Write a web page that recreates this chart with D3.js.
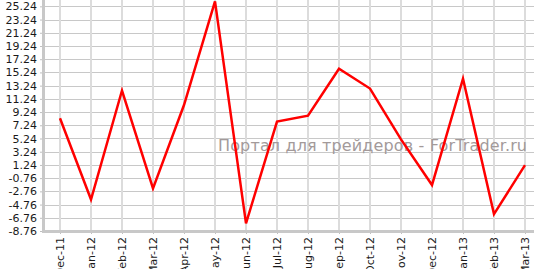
<!DOCTYPE html>
<html>
<head>
<meta charset="utf-8">
<script src="https://cdn.jsdelivr.net/npm/d3@7"></script>
<style>
html,body{margin:0;padding:0;background:#fff;}
svg{display:block;}
</style>
</head>
<body>
<svg id="chart" width="534" height="269"></svg>
<script>
const categories = ["Dec-11","Jan-12","Feb-12","Mar-12","Apr-12","May-12","Jun-12","Jul-12","Aug-12","Sep-12","Oct-12","Nov-12","Dec-12","Jan-13","Feb-13","Mar-13"];
const values = [8.3, -4.0, 12.5, -2.3, 10.3, 26.0, -7.6, 7.8, 8.7, 15.8, 12.8, 5.1, -1.8, 14.3, -6.2, 1.2];
const yTicks = [-8.76,-6.76,-4.76,-2.76,-0.76,1.24,3.24,5.24,7.24,9.24,11.24,13.24,15.24,17.24,19.24,21.24,23.24,25.24];
const watermark = "Портал для трейдеров - ForTrader.ru";

(function(){
const svg = d3.select("#chart");
const pl = 44, pt = 0, pb = 231;
const font = "'DejaVu Sans', Verdana, sans-serif";

const x = d3.scalePoint().domain(categories).range([60, 525]);
const y = d3.scaleLinear().domain([-8.76, 26.2]).range([pb, pt]);

// horizontal grid
svg.append("g").selectAll("line").data(yTicks).join("line")
  .attr("x1", pl).attr("x2", 534)
  .attr("y1", d => Math.round(y(d)) + 0.5).attr("y2", d => Math.round(y(d)) + 0.5)
  .attr("stroke", "#c8c8c8").attr("stroke-width", 1);

// vertical grid
svg.append("g").selectAll("line").data(categories).join("line")
  .attr("x1", d => x(d)).attr("x2", d => x(d))
  .attr("y1", pt).attr("y2", pb)
  .attr("stroke", "#dcdcdc").attr("stroke-width", 2);

// watermark
svg.append("text")
  .attr("x", 218).attr("y", 151)
  .attr("font-family", font).attr("font-size", 16)
  .attr("textLength", 309).attr("lengthAdjust", "spacing")
  .attr("fill", "#a39a9a")
  .text(watermark);

// y axis
const yAxis = d3.axisLeft(y).tickValues(yTicks).tickSize(4).tickPadding(3)
  .tickFormat(d => d.toFixed(2));
const gy = svg.append("g").attr("transform", `translate(${pl},0)`).call(yAxis);
gy.select(".domain").remove();
gy.selectAll(".tick line").attr("stroke", "#c0c0c0").attr("stroke-width", 1);
gy.selectAll(".tick text").attr("font-family", font).attr("font-size", 11).attr("fill", "#1a1a1a");
svg.append("line").attr("x1", pl - 0.5).attr("x2", pl - 0.5).attr("y1", pt).attr("y2", pb + 1.5)
  .attr("stroke", "#c8c8c8").attr("stroke-width", 3);

// x axis
const xAxis = d3.axisBottom(x).tickSize(3).tickPadding(4);
const gx = svg.append("g").attr("transform", `translate(0,${pb})`).call(xAxis);
gx.select(".domain").remove();
gx.selectAll(".tick line").attr("stroke", "#c0c0c0");
gx.selectAll(".tick text")
  .attr("font-family", font).attr("font-size", 11).attr("fill", "#1a1a1a")
  .attr("transform", "rotate(-90)")
  .attr("text-anchor", "end")
  .attr("x", -6).attr("y", 0).attr("dy", "0.35em");
svg.append("line").attr("x1", pl - 2).attr("x2", 534).attr("y1", pb + 0.5).attr("y2", pb + 0.5)
  .attr("stroke", "#c8c8c8").attr("stroke-width", 3);

// line
const line = d3.line().x((d, i) => x(categories[i])).y(d => y(d));
svg.append("path").datum(values)
  .attr("d", line)
  .attr("fill", "none").attr("stroke", "#ff0000").attr("stroke-width", 2.5)
  .attr("stroke-linejoin", "miter");
})();
</script>
</body>
</html>
